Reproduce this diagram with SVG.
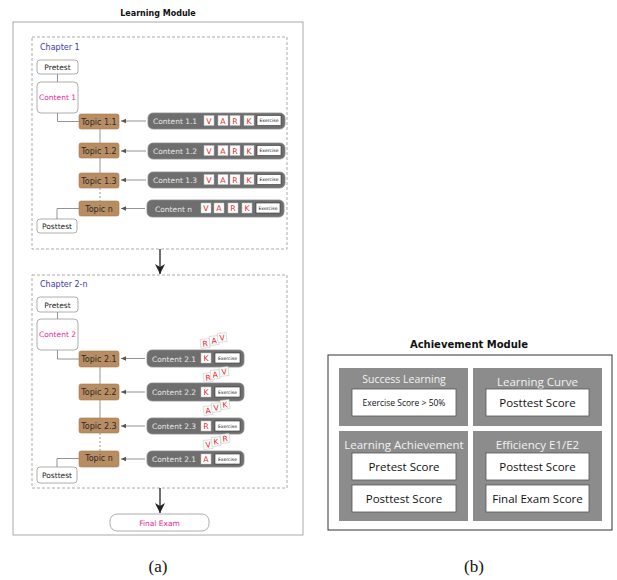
<svg xmlns="http://www.w3.org/2000/svg" width="617" height="580" viewBox="0 0 617 580">
<defs>
<marker id="sa" markerWidth="6" markerHeight="6" refX="5" refY="3" orient="auto" markerUnits="userSpaceOnUse"><path d="M0,0.8 L5,3 L0,5.2 Z" fill="#555"/></marker>
<marker id="ba" markerWidth="12" markerHeight="12" refX="10" refY="6" orient="auto" markerUnits="userSpaceOnUse"><path d="M0,1 L10,6 L0,11 L3,6 Z" fill="#222"/></marker>
<style>
text{font-family:"DejaVu Sans","Liberation Sans",sans-serif}
.ttl{font-size:8px;font-weight:bold;fill:#111;text-anchor:middle}
.chap{font-size:8px;fill:#3a3aa8}
.wb{fill:#fff;stroke:#999;stroke-width:0.8}
.wt{font-size:7.5px;fill:#222;text-anchor:middle}
.mt{font-size:7.5px;fill:#e8289a;text-anchor:middle}
.tp{fill:#b98d62;stroke:#a37a52;stroke-width:0.6}
.tt{font-size:8px;fill:#2a2a2a;text-anchor:middle}
.cb{fill:#6e6e6e;stroke:#8a8a8a;stroke-width:0.8}
.ct{font-size:7.5px;fill:#e6e6e6}
.vk{fill:#fff;stroke:#bbb;stroke-width:0.5}
.vt{font-size:7.8px;fill:#e52a2a;text-anchor:middle}
.ex{fill:#fff;stroke:#333;stroke-width:0.6}
.et{font-size:4.6px;fill:#111;text-anchor:middle}
.ln{stroke:#888;stroke-width:0.9;fill:none}
.dl{stroke:#888;stroke-width:0.9;fill:none;stroke-dasharray:2,2}
.ar{stroke:#777;stroke-width:0.8;fill:none}
.dash{fill:none;stroke:#aaa;stroke-width:1;stroke-dasharray:3,2}
.pn{fill:#8c8c8c}
.pt{font-family:"Open Sans","Liberation Sans",sans-serif;font-size:11.5px;fill:#f2f2f2;text-anchor:middle}
.ab{fill:#fff;stroke:#555;stroke-width:0.8}
.at{font-family:"Open Sans","Liberation Sans",sans-serif;font-size:11.5px;fill:#111;text-anchor:middle}
.cap{font-family:"Liberation Serif",serif;font-size:17px;fill:#111;text-anchor:middle}
</style>
</defs>

<!-- Panel (a) -->
<g id="learning-module">
<text class="ttl" x="158" y="16">Learning Module</text>
<rect x="13" y="22" width="290" height="513" fill="none" stroke="#aaa" stroke-width="1"/>
</g>

<g id="chapter1">
<rect class="dash" x="32" y="37" width="255" height="212"/>
<text class="chap" x="40" y="50">Chapter 1</text>
</g>
<g id="pretest1"><rect class="wb" x="37" y="60" width="41" height="14" rx="3"/><text class="wt" x="57.5" y="70">Pretest</text></g>
<g id="content1"><rect class="wb" x="37" y="82" width="41" height="31" rx="4"/><text class="mt" x="57.5" y="100">Content 1</text></g>
<g id="topic11"><rect class="tp" x="79" y="114" width="40" height="15" rx="2"/><text class="tt" x="99" y="124.5">Topic 1.1</text></g>
<g id="topic12"><rect class="tp" x="79" y="143" width="40" height="15" rx="2"/><text class="tt" x="99" y="153.5">Topic 1.2</text></g>
<g id="topic13"><rect class="tp" x="79" y="173" width="40" height="15" rx="2"/><text class="tt" x="99" y="183.5">Topic 1.3</text></g>
<g id="topic1n"><rect class="tp" x="79" y="201" width="40" height="15" rx="2"/><text class="tt" x="99" y="211.5">Topic n</text></g>
<g id="posttest1"><rect class="wb" x="37" y="219" width="40" height="14" rx="3"/><text class="wt" x="57" y="229">Posttest</text></g>

<g id="c11"><rect class="cb" x="148" y="113" width="137" height="16" rx="5"/><text class="ct" x="153" y="124">Content  1.1</text>
<rect class="vk" x="204" y="115.5" width="10" height="10"/><text class="vt" x="209" y="123.8">V</text>
<rect class="vk" x="218" y="115.5" width="10" height="10"/><text class="vt" x="223" y="123.8">A</text>
<rect class="vk" x="230" y="115.5" width="10" height="10"/><text class="vt" x="235" y="123.8">R</text>
<rect class="vk" x="244" y="115.5" width="10" height="10"/><text class="vt" x="249" y="123.8">K</text>
<rect class="ex" x="257" y="115.5" width="24" height="10"/><text class="et" x="269" y="122.2">Exercise</text></g>
<g id="c12"><rect class="cb" x="148" y="143" width="137" height="16" rx="5"/><text class="ct" x="153" y="154">Content  1.2</text>
<rect class="vk" x="204" y="145.5" width="10" height="10"/><text class="vt" x="209" y="153.8">V</text>
<rect class="vk" x="218" y="145.5" width="10" height="10"/><text class="vt" x="223" y="153.8">A</text>
<rect class="vk" x="230" y="145.5" width="10" height="10"/><text class="vt" x="235" y="153.8">R</text>
<rect class="vk" x="244" y="145.5" width="10" height="10"/><text class="vt" x="249" y="153.8">K</text>
<rect class="ex" x="257" y="145.5" width="24" height="10"/><text class="et" x="269" y="152.2">Exercise</text></g>
<g id="c13"><rect class="cb" x="148" y="172" width="137" height="16" rx="5"/><text class="ct" x="153" y="183">Content  1.3</text>
<rect class="vk" x="204" y="174.5" width="10" height="10"/><text class="vt" x="209" y="182.8">V</text>
<rect class="vk" x="218" y="174.5" width="10" height="10"/><text class="vt" x="223" y="182.8">A</text>
<rect class="vk" x="230" y="174.5" width="10" height="10"/><text class="vt" x="235" y="182.8">R</text>
<rect class="vk" x="244" y="174.5" width="10" height="10"/><text class="vt" x="249" y="182.8">K</text>
<rect class="ex" x="257" y="174.5" width="24" height="10"/><text class="et" x="269" y="181.2">Exercise</text></g>
<g id="c1n"><rect class="cb" x="147" y="200" width="137" height="17" rx="5"/><text class="ct" x="155" y="211.5">Content  n</text>
<rect class="vk" x="201" y="203" width="10" height="10"/><text class="vt" x="206" y="211.3">V</text>
<rect class="vk" x="214" y="203" width="10" height="10"/><text class="vt" x="219" y="211.3">A</text>
<rect class="vk" x="228" y="203" width="10" height="10"/><text class="vt" x="233" y="211.3">R</text>
<rect class="vk" x="242" y="203" width="10" height="10"/><text class="vt" x="247" y="211.3">K</text>
<rect class="ex" x="256" y="203" width="24" height="10"/><text class="et" x="268" y="209.7">Exercise</text></g>

<g id="chapter2">
<rect class="dash" x="32" y="275" width="255" height="213"/>
<text class="chap" x="40" y="287">Chapter 2-n</text>
</g>
<g id="pretest2"><rect class="wb" x="37" y="297" width="41" height="15" rx="3"/><text class="wt" x="57.5" y="307.5">Pretest</text></g>
<g id="content2"><rect class="wb" x="37" y="319" width="41" height="31" rx="4"/><text class="mt" x="57.5" y="337">Content 2</text></g>
<g id="topic21"><rect class="tp" x="79" y="351" width="40" height="16" rx="2"/><text class="tt" x="99" y="362">Topic 2.1</text></g>
<g id="topic22"><rect class="tp" x="79" y="384" width="40" height="16" rx="2"/><text class="tt" x="99" y="395">Topic 2.2</text></g>
<g id="topic23"><rect class="tp" x="79" y="418" width="40" height="15" rx="2"/><text class="tt" x="99" y="428.5">Topic 2.3</text></g>
<g id="topic2n"><rect class="tp" x="79" y="451" width="40" height="16" rx="2"/><text class="tt" x="99" y="461">Topic n</text></g>
<g id="posttest2"><rect class="wb" x="37" y="467" width="40" height="16" rx="3"/><text class="wt" x="57" y="478">Posttest</text></g>

<g id="c21"><rect class="cb" x="147" y="350" width="97" height="17" rx="5"/><text class="ct" x="152" y="361.5">Content  2.1</text>
<rect class="vk" x="201" y="353" width="10" height="10"/><text class="vt" x="206" y="361.3">K</text>
<rect class="ex" x="215" y="353" width="25" height="10"/><text class="et" x="227.5" y="359.7">Exercise</text>
<g transform="rotate(-6 205 343)"><rect class="vk" x="200.5" y="339" width="9" height="9"/><text class="vt" x="205" y="346.5">R</text></g>
<g transform="rotate(-6 214 340)"><rect class="vk" x="209.5" y="336" width="9" height="9"/><text class="vt" x="214" y="343.5">A</text></g>
<g transform="rotate(-6 222 337)"><rect class="vk" x="217.5" y="333" width="9" height="9"/><text class="vt" x="222" y="340.5">V</text></g></g>
<g id="c22"><rect class="cb" x="147" y="383" width="97" height="18" rx="5"/><text class="ct" x="152" y="395">Content  2.2</text>
<rect class="vk" x="201" y="387" width="10" height="10"/><text class="vt" x="206" y="395.3">K</text>
<rect class="ex" x="215" y="387" width="25" height="10"/><text class="et" x="227.5" y="393.7">Exercise</text>
<g transform="rotate(-6 208 377)"><rect class="vk" x="203.5" y="373" width="9" height="9"/><text class="vt" x="208" y="380.5">R</text></g>
<g transform="rotate(-6 215 374)"><rect class="vk" x="210.5" y="370" width="9" height="9"/><text class="vt" x="215" y="377.5">A</text></g>
<g transform="rotate(-6 224 371)"><rect class="vk" x="219.5" y="367" width="9" height="9"/><text class="vt" x="224" y="374.5">V</text></g></g>
<g id="c23"><rect class="cb" x="147" y="418" width="97" height="16" rx="5"/><text class="ct" x="152" y="429">Content  2.3</text>
<rect class="vk" x="201" y="421" width="10" height="10"/><text class="vt" x="206" y="429.3">R</text>
<rect class="ex" x="215" y="421" width="25" height="10"/><text class="et" x="227.5" y="427.7">Exercise</text>
<g transform="rotate(-6 208 410)"><rect class="vk" x="203.5" y="406" width="9" height="9"/><text class="vt" x="208" y="413.5">A</text></g>
<g transform="rotate(-6 216 407)"><rect class="vk" x="211.5" y="403" width="9" height="9"/><text class="vt" x="216" y="410.5">V</text></g>
<g transform="rotate(-6 225 404)"><rect class="vk" x="220.5" y="400" width="9" height="9"/><text class="vt" x="225" y="407.5">K</text></g></g>
<g id="c2n"><rect class="cb" x="147" y="451" width="97" height="16" rx="5"/><text class="ct" x="152" y="462">Content  2.1</text>
<rect class="vk" x="201" y="454" width="10" height="10"/><text class="vt" x="206" y="462.3">A</text>
<rect class="ex" x="215" y="454" width="25" height="10"/><text class="et" x="227.5" y="460.7">Exercise</text>
<g transform="rotate(-6 208 444)"><rect class="vk" x="203.5" y="440" width="9" height="9"/><text class="vt" x="208" y="447.5">V</text></g>
<g transform="rotate(-6 216 441)"><rect class="vk" x="211.5" y="437" width="9" height="9"/><text class="vt" x="216" y="444.5">K</text></g>
<g transform="rotate(-6 225 438)"><rect class="vk" x="220.5" y="434" width="9" height="9"/><text class="vt" x="225" y="441.5">R</text></g></g>

<g id="final-exam"><rect class="wb" x="110" y="514" width="99" height="17" rx="7" stroke="#777"/><text class="mt" x="159.5" y="525.5">Final Exam</text></g>

<g id="connectors">
<path class="ln" d="M57.5,74 V82"/>
<path class="ln" d="M57.5,113 V121.5 H79"/>
<path class="ln" d="M100,129 V143 M100,158 V173"/>
<path class="dl" d="M100,188 V201"/>
<path class="ln" d="M79,208.5 H57 V219"/>
<path class="ar" d="M146,121 H121" marker-end="url(#sa)"/>
<path class="ar" d="M146,151 H121" marker-end="url(#sa)"/>
<path class="ar" d="M146,180 H121" marker-end="url(#sa)"/>
<path class="ar" d="M145,208.5 H121" marker-end="url(#sa)"/>
<path class="ln" d="M57.5,312 V319"/>
<path class="ln" d="M57.5,350 V359 H79"/>
<path class="ln" d="M100,367 V384 M100,400 V418"/>
<path class="dl" d="M100,433 V451"/>
<path class="ln" d="M79,458.5 H57 V467"/>
<path class="ar" d="M145,358.5 H121" marker-end="url(#sa)"/>
<path class="ar" d="M145,392 H121" marker-end="url(#sa)"/>
<path class="ar" d="M145,426 H121" marker-end="url(#sa)"/>
<path class="ar" d="M145,459 H121" marker-end="url(#sa)"/>
<path d="M160,249 V274" stroke="#333" stroke-width="1.4" fill="none" marker-end="url(#ba)"/>
<path d="M160,488 V513" stroke="#333" stroke-width="1.4" fill="none" marker-end="url(#ba)"/>
</g>

<!-- Panel (b) -->
<g id="achievement-module">
<text x="469" y="348" font-family="'Open Sans','Liberation Sans',sans-serif" font-size="10" font-weight="bold" fill="#111" text-anchor="middle">Achievement Module</text>
<rect x="328" y="355" width="284" height="175" fill="#fff" stroke="#333" stroke-width="1"/>
</g>
<g id="success-learning">
<rect class="pn" x="339" y="368" width="129" height="58"/>
<text class="pt" x="404" y="382.5" style="font-size:10.5px">Success Learning</text>
<rect class="ab" x="352" y="389" width="104" height="27"/>
<text class="at" x="404" y="405.5" style="font-size:8.5px">Exercise Score &gt; 50%</text>
</g>
<g id="learning-curve">
<rect class="pn" x="473" y="368" width="129" height="58"/>
<text class="pt" x="537.5" y="386">Learning Curve</text>
<rect class="ab" x="486" y="389" width="103" height="27"/>
<text class="at" x="537.5" y="406.5">Posttest Score</text>
</g>
<g id="learning-achievement">
<rect class="pn" x="339" y="431" width="129" height="90"/>
<text class="pt" x="404" y="448.5">Learning Achievement</text>
<rect class="ab" x="352" y="453" width="104" height="27"/>
<text class="at" x="404" y="470.5">Pretest Score</text>
<rect class="ab" x="352" y="485" width="104" height="27"/>
<text class="at" x="404" y="502.5">Posttest Score</text>
</g>
<g id="efficiency">
<rect class="pn" x="473" y="431" width="129" height="90"/>
<text class="pt" x="537.5" y="448.5">Efficiency E1/E2</text>
<rect class="ab" x="486" y="453" width="103" height="27"/>
<text class="at" x="537.5" y="470.5">Posttest Score</text>
<rect class="ab" x="486" y="485" width="103" height="27"/>
<text class="at" x="537.5" y="502.5">Final Exam Score</text>
</g>

<text class="cap" x="158" y="572">(a)</text>
<text class="cap" x="474" y="572">(b)</text>
</svg>
